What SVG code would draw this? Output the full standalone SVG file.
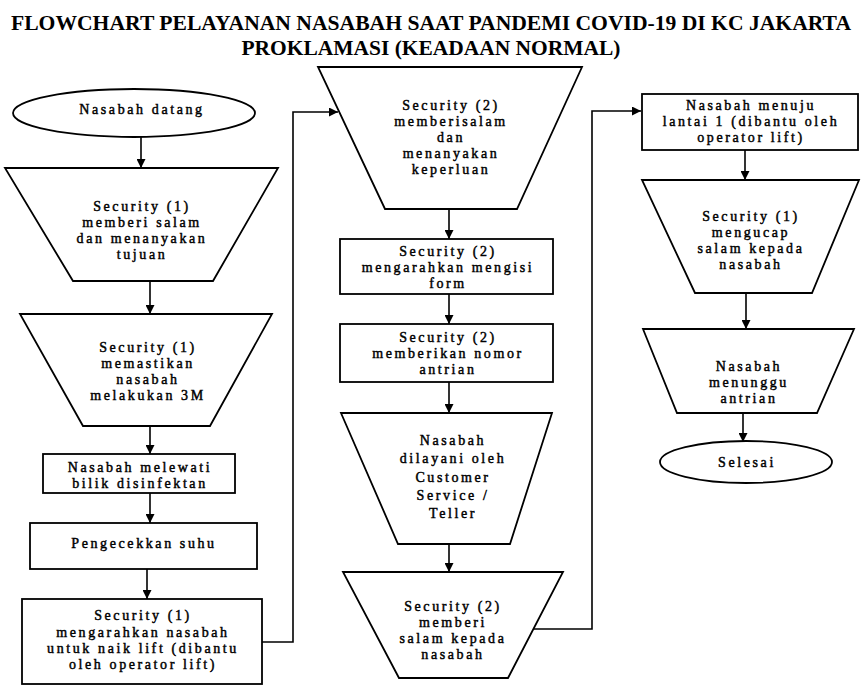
<svg xmlns="http://www.w3.org/2000/svg" width="862" height="686" viewBox="0 0 862 686">
<defs>
<marker id="ah" markerUnits="userSpaceOnUse" markerWidth="9" markerHeight="9" refX="9" refY="4.5" orient="auto">
<path d="M0,0 L9,4.5 L0,9 z" fill="#000"/>
</marker>
<style>
.s{fill:#fff;stroke:#000;stroke-width:1.8}
.c{fill:none;stroke:#000;stroke-width:1.6}
.t{font-family:'Liberation Serif',serif;font-size:14px;letter-spacing:2.6px;text-anchor:middle;fill:#000;stroke:#000;stroke-width:0.45}
.h{font-family:'Liberation Serif',serif;font-size:21px;font-weight:bold;text-anchor:middle;fill:#000}
</style>
</defs>
<rect width="862" height="686" fill="#fff"/>
<text class="h" x="431" y="30" textLength="840" lengthAdjust="spacingAndGlyphs">FLOWCHART PELAYANAN NASABAH SAAT PANDEMI COVID-19 DI KC JAKARTA</text>
<text class="h" x="431" y="55" textLength="379" lengthAdjust="spacingAndGlyphs">PROKLAMASI (KEADAAN NORMAL)</text>

<g id="connectors">
<line class="c" x1="141" y1="137" x2="141" y2="168" marker-end="url(#ah)"/>
<line class="c" x1="150" y1="281" x2="150" y2="314" marker-end="url(#ah)"/>
<line class="c" x1="150" y1="426" x2="150" y2="454" marker-end="url(#ah)"/>
<line class="c" x1="150" y1="493" x2="150" y2="523" marker-end="url(#ah)"/>
<line class="c" x1="147" y1="569" x2="147" y2="599" marker-end="url(#ah)"/>
<path class="c" d="M262,642 H293 V112 H338" marker-end="url(#ah)"/>
<line class="c" x1="449" y1="209" x2="449" y2="239" marker-end="url(#ah)"/>
<line class="c" x1="449" y1="294" x2="449" y2="324" marker-end="url(#ah)"/>
<line class="c" x1="449" y1="382" x2="449" y2="413" marker-end="url(#ah)"/>
<line class="c" x1="449" y1="544" x2="449" y2="572" marker-end="url(#ah)"/>
<path class="c" d="M533,629 H592 V111 H641" marker-end="url(#ah)"/>
<line class="c" x1="745" y1="150" x2="745" y2="180" marker-end="url(#ah)"/>
<line class="c" x1="746" y1="293" x2="746" y2="329" marker-end="url(#ah)"/>
<line class="c" x1="743" y1="413" x2="743" y2="442" marker-end="url(#ah)"/>
</g>

<g id="n1">
<ellipse class="s" cx="134" cy="113" rx="121" ry="24"/>
<text class="t" x="142" y="114">Nasabah datang</text>
</g>
<g id="n2">
<polygon class="s" points="5,168 278,168 213,281 73,281"/>
<text class="t" x="142" y="211">Security (1)</text>
<text class="t" x="142" y="227">memberi salam</text>
<text class="t" x="142" y="243">dan menanyakan</text>
<text class="t" x="142" y="259">tujuan</text>
</g>
<g id="n3">
<polygon class="s" points="20,314 272,314 210,426 83,426"/>
<text class="t" x="148" y="352">Security (1)</text>
<text class="t" x="148" y="368">memastikan</text>
<text class="t" x="148" y="384">nasabah</text>
<text class="t" x="148" y="400">melakukan 3M</text>
</g>
<g id="n4">
<rect class="s" x="43" y="454" width="192" height="39"/>
<text class="t" x="140" y="472">Nasabah melewati</text>
<text class="t" x="140" y="488">bilik disinfektan</text>
</g>
<g id="n5">
<rect class="s" x="30" y="523" width="227" height="46"/>
<text class="t" x="144" y="548">Pengecekkan suhu</text>
</g>
<g id="n6">
<rect class="s" x="22" y="599" width="240" height="85"/>
<text class="t" x="143" y="620">Security (1)</text>
<text class="t" x="143" y="637">mengarahkan nasabah</text>
<text class="t" x="143" y="653">untuk naik lift (dibantu</text>
<text class="t" x="143" y="669">oleh operator lift)</text>
</g>

<g id="n7">
<polygon class="s" points="318,67 582,67 517,209 385,209"/>
<text class="t" x="451" y="110">Security (2)</text>
<text class="t" x="451" y="126">memberisalam</text>
<text class="t" x="451" y="142">dan</text>
<text class="t" x="451" y="158">menanyakan</text>
<text class="t" x="451" y="174">keperluan</text>
</g>
<g id="n8">
<rect class="s" x="340" y="239" width="213" height="55"/>
<text class="t" x="448" y="256">Security (2)</text>
<text class="t" x="448" y="272">mengarahkan mengisi</text>
<text class="t" x="448" y="288">form</text>
</g>
<g id="n9">
<rect class="s" x="340" y="324" width="213" height="58"/>
<text class="t" x="448" y="342">Security (2)</text>
<text class="t" x="448" y="358">memberikan nomor</text>
<text class="t" x="448" y="374">antrian</text>
</g>
<g id="n10">
<polygon class="s" points="341,413 552,413 510,544 398,544"/>
<text class="t" x="453" y="445">Nasabah</text>
<text class="t" x="453" y="463">dilayani oleh</text>
<text class="t" x="453" y="482">Customer</text>
<text class="t" x="453" y="500">Service /</text>
<text class="t" x="453" y="518">Teller</text>
</g>
<g id="n11">
<polygon class="s" points="343,572 563,572 508,678 399,678"/>
<text class="t" x="453" y="611">Security (2)</text>
<text class="t" x="453" y="627">memberi</text>
<text class="t" x="453" y="643">salam kepada</text>
<text class="t" x="453" y="659">nasabah</text>
</g>

<g id="n12">
<rect class="s" x="642" y="94" width="216" height="56"/>
<text class="t" x="751" y="110">Nasabah menuju</text>
<text class="t" x="751" y="126">lantai 1 (dibantu oleh</text>
<text class="t" x="751" y="142">operator lift)</text>
</g>
<g id="n13">
<polygon class="s" points="642,180 859,180 812,293 695,293"/>
<text class="t" x="751" y="221">Security (1)</text>
<text class="t" x="751" y="237">mengucap</text>
<text class="t" x="751" y="253">salam kepada</text>
<text class="t" x="751" y="269">nasabah</text>
</g>
<g id="n14">
<polygon class="s" points="643,329 854,329 817,413 677,413"/>
<text class="t" x="749" y="371">Nasabah</text>
<text class="t" x="749" y="387">menunggu</text>
<text class="t" x="749" y="403">antrian</text>
</g>
<g id="n15">
<ellipse class="s" cx="746" cy="462" rx="86" ry="21"/>
<text class="t" x="747" y="467">Selesai</text>
</g>
</svg>
